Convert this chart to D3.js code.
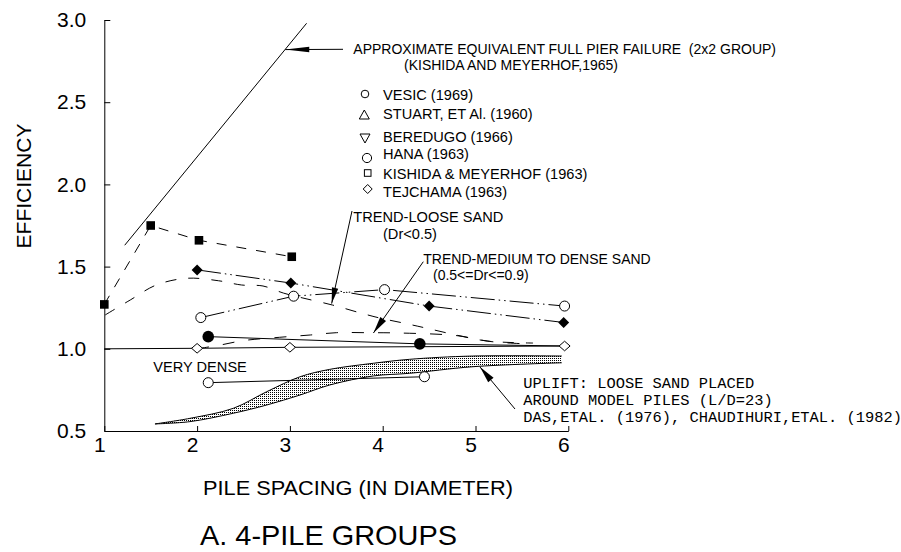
<!DOCTYPE html>
<html>
<head>
<meta charset="utf-8">
<script src="https://cdn.jsdelivr.net/npm/d3@7"></script>
<style>
  html, body { margin: 0; padding: 0; background: #fff; }
  svg { display: block; }
  text { font-family: "Liberation Sans", Arial, sans-serif; fill: #000; }
  .cad { font-family: "Liberation Mono", "DejaVu Sans Mono", monospace; }
</style>
</head>
<body>
<svg id="chart" width="901" height="552"></svg>
<script>
// ---- axis ticks ----
const xTicks = [1, 2, 3, 4, 5, 6];
const yTicks = [0.5, 1.0, 1.5, 2.0, 2.5, 3.0];

// ---- group efficiency data (pile spacing in diameters vs. efficiency) ----
const kishidaSpacing = [1.0, 1.5, 2.02, 3.02];
const kishidaEff     = [1.27, 1.75, 1.66, 1.56];

const solidDiamondSpacing = [2.0, 3.01, 4.5, 5.95];
const solidDiamondEff     = [1.48, 1.40, 1.26, 1.16];

const openCircleSpacing = [2.04, 3.04, 4.02, 5.96];
const openCircleEff     = [1.19, 1.32, 1.36, 1.26];

const solidCircleSpacing = [2.12, 4.40, 5.96];
const solidCircleEff     = [1.074, 1.03, 1.017];
const solidCircleMarked  = [true, true, false];

const tejchamaSpacing = [1.0, 2.0, 3.0, 5.96];
const tejchamaEff     = [1.0, 1.003, 1.009, 1.017];
const tejchamaMarked  = [false, true, true, true];

const veryDenseSpacing = [2.12, 4.45];
const veryDenseEff     = [0.794, 0.83];

// trend curves
const looseTrendSpacing = [1.01, 1.28, 1.56, 1.89, 2.23, 2.48, 2.71, 2.93, 3.14, 3.46, 3.76, 3.97, 4.22, 4.46, 4.79, 5.13, 5.62];
const looseTrendEff     = [1.206, 1.297, 1.388, 1.429, 1.414, 1.388, 1.382, 1.339, 1.309, 1.266, 1.218, 1.187, 1.157, 1.127, 1.084, 1.047, 1.035];

const mediumTrendSpacing = [2.0, 2.25, 2.5, 2.89, 3.22, 3.5, 3.83, 4.19, 4.8, 5.15, 5.55];
const mediumTrendEff     = [1.0, 1.023, 1.05, 1.07, 1.084, 1.098, 1.098, 1.096, 1.08, 1.045, 1.03];

// full pier failure line (2x2 group)
const pierSpacing = [1.22, 3.18];
const pierEff     = [1.63, 2.98];

// uplift band (loose sand around model piles)
const upliftSpacing = [1.546, 1.923, 2.39, 2.75, 3.11, 3.43, 3.90, 4.29, 4.97, 5.93];
const upliftUpper   = [0.543, 0.577, 0.638, 0.739, 0.830, 0.875, 0.912, 0.936, 0.956, 0.956];
const upliftLower   = [0.543, 0.557, 0.608, 0.658, 0.719, 0.780, 0.835, 0.851, 0.891, 0.915];

// legend
const legendNames = ["VESIC (1969)", "STUART, ET Al. (1960)", "BEREDUGO (1966)", "HANA (1963)", "KISHIDA & MEYERHOF (1963)", "TEJCHAMA (1963)"];
const legendSymbols = ["smallCircle", "triUp", "triDown", "circle", "square", "diamond"];

// ---- drawing ----
const svg = d3.select("#chart");
const x = d3.scaleLinear().domain([1, 6]).range([104.3, 568.3]);
const y = d3.scaleLinear().domain([0.5, 3]).range([431, 20]);

const zip = (a, b) => a.map((d, i) => [d, b[i]]);
const line = d3.line().x(d => x(d[0])).y(d => y(d[1]));
const smooth = d3.line().x(d => x(d[0])).y(d => y(d[1])).curve(d3.curveCatmullRom.alpha(0.5));

const defs = svg.append("defs");
const pat = defs.append("pattern").attr("id", "stipple")
  .attr("width", 2).attr("height", 2).attr("patternUnits", "userSpaceOnUse");
pat.append("rect").attr("width", 2).attr("height", 2).attr("fill", "#fff");
pat.append("rect").attr("width", 1).attr("height", 1).attr("fill", "#000");

// axes
const gx = svg.append("g").attr("transform", "translate(0,431)")
  .call(d3.axisBottom(x).tickValues(xTicks).tickSizeInner(-5).tickSizeOuter(0).tickPadding(6)
    .tickFormat(d3.format("d")));
gx.selectAll("text").attr("dx", -5).attr("font-size", 21).attr("font-family", "Liberation Sans, Arial, sans-serif");

const gy = svg.append("g").attr("transform", "translate(104.3,0)")
  .call(d3.axisLeft(y).tickValues(yTicks).tickSizeInner(-6).tickSizeOuter(0).tickPadding(18)
    .tickFormat(d3.format(".1f")));
gy.selectAll("text").attr("font-size", 21).attr("font-family", "Liberation Sans, Arial, sans-serif");
svg.selectAll(".domain, .tick line").attr("stroke", "#000").attr("stroke-width", 1);

svg.append("text").attr("transform", "translate(31,186) rotate(-90)")
  .attr("text-anchor", "middle").attr("font-size", 21).text("EFFICIENCY");
svg.append("text").attr("x", 203).attr("y", 495).attr("font-size", 20)
  .attr("textLength", 310).attr("lengthAdjust", "spacingAndGlyphs").text("PILE SPACING (IN DIAMETER)");
svg.append("text").attr("x", 200).attr("y", 545).attr("font-size", 28)
  .attr("textLength", 257).attr("lengthAdjust", "spacingAndGlyphs").text("A. 4-PILE GROUPS");

// uplift band
const band = upliftSpacing.map((s, i) => [s, upliftUpper[i], upliftLower[i]]);
svg.append("path").datum(band)
  .attr("d", d3.area().x(d => x(d[0])).y0(d => y(d[2])).y1(d => y(d[1])).curve(d3.curveCatmullRom.alpha(0.5)))
  .attr("fill", "url(#stipple)").attr("stroke", "none");
svg.append("path").datum(zip(upliftSpacing, upliftUpper)).attr("d", smooth)
  .attr("fill", "none").attr("stroke", "#000").attr("stroke-width", 1);
svg.append("path").datum(zip(upliftSpacing, upliftLower)).attr("d", smooth)
  .attr("fill", "none").attr("stroke", "#000").attr("stroke-width", 1);

// full pier failure line
svg.append("path").datum(zip(pierSpacing, pierEff)).attr("d", line)
  .attr("fill", "none").attr("stroke", "#000").attr("stroke-width", 1);

// trend curves
svg.append("path").datum(zip(looseTrendSpacing, looseTrendEff)).attr("d", smooth)
  .attr("fill", "none").attr("stroke", "#000").attr("stroke-width", 1).attr("stroke-dasharray", "11,12");
svg.append("path").datum(zip(mediumTrendSpacing, mediumTrendEff)).attr("d", smooth)
  .attr("fill", "none").attr("stroke", "#000").attr("stroke-width", 1).attr("stroke-dasharray", "12,14");

// series lines
const lineSpec = [
  { s: kishidaSpacing, e: kishidaEff, dash: "10,10" },
  { s: solidDiamondSpacing, e: solidDiamondEff, dash: "24,4,1.5,4,1.5,4" },
  { s: openCircleSpacing, e: openCircleEff, dash: "24,4,1.5,4,1.5,4" },
  { s: solidCircleSpacing, e: solidCircleEff, dash: null },
  { s: tejchamaSpacing, e: tejchamaEff, dash: null },
  { s: veryDenseSpacing, e: veryDenseEff, dash: null }
];
lineSpec.forEach(l => {
  const p = svg.append("path").datum(zip(l.s, l.e)).attr("d", line)
    .attr("fill", "none").attr("stroke", "#000").attr("stroke-width", 1);
  if (l.dash) p.attr("stroke-dasharray", l.dash);
});

// marker shapes
function diamondPath(w, h) { return `M0,${-h}L${w},0L0,${h}L${-w},0Z`; }
function markers(xs, es, draw, marked) {
  xs.forEach((s, i) => {
    if (marked && !marked[i]) return;
    draw(svg.append("g").attr("transform", `translate(${x(s)},${y(es[i])})`));
  });
}
markers(kishidaSpacing, kishidaEff, g => g.append("rect").attr("x", -4.3).attr("y", -4.3).attr("width", 8.6).attr("height", 8.6).attr("fill", "#000"));
markers(solidDiamondSpacing, solidDiamondEff, g => g.append("path").attr("d", diamondPath(5.5, 5.5)).attr("fill", "#000"));
markers(openCircleSpacing, openCircleEff, g => g.append("circle").attr("r", 5).attr("fill", "#fff").attr("stroke", "#000"));
markers(solidCircleSpacing, solidCircleEff, g => g.append("circle").attr("r", 5.8).attr("fill", "#000"), solidCircleMarked);
markers(tejchamaSpacing, tejchamaEff, g => g.append("path").attr("d", diamondPath(5.5, 4.8)).attr("fill", "#fff").attr("stroke", "#000"), tejchamaMarked);
markers(veryDenseSpacing, veryDenseEff, g => g.append("circle").attr("r", 5).attr("fill", "#fff").attr("stroke", "#000"));

// arrows
function arrow(x1, y1, x2, y2, len, half) {
  svg.append("line").attr("x1", x1).attr("y1", y1).attr("x2", x2).attr("y2", y2)
    .attr("stroke", "#000").attr("stroke-width", 1);
  const a = Math.atan2(y2 - y1, x2 - x1);
  const bx = x2 - len * Math.cos(a), by = y2 - len * Math.sin(a);
  const px = -Math.sin(a) * half, py = Math.cos(a) * half;
  svg.append("path").attr("d", `M${x2},${y2}L${bx + px},${by + py}L${bx - px},${by - py}Z`).attr("fill", "#000");
}
arrow(343, 49.3, x(2.95), y(2.82), 24, 2.8);
arrow(352, 211, x(3.45), y(1.275), 16, 3.2);
arrow(423.3, 261.7, x(3.90), y(1.096), 17, 3.5);
arrow(515, 409, 480, 367, 17, 3.5);

// annotation texts
const fs = 14.6;
svg.append("text").attr("x", 353.3).attr("y", 53.5).attr("font-size", 14).attr("xml:space", "preserve")
  .text("APPROXIMATE EQUIVALENT FULL PIER FAILURE  (2x2 GROUP)");
svg.append("text").attr("x", 404).attr("y", 69.5).attr("font-size", 14).text("(KISHIDA AND MEYERHOF,1965)");
svg.append("text").attr("x", 353.3).attr("y", 221.7).attr("font-size", fs).text("TREND-LOOSE SAND");
svg.append("text").attr("x", 383).attr("y", 239.3).attr("font-size", fs).text("(Dr<0.5)");
svg.append("text").attr("x", 423.3).attr("y", 263.5).attr("font-size", 14).text("TREND-MEDIUM TO DENSE SAND");
svg.append("text").attr("x", 433).attr("y", 279.5).attr("font-size", 14).text("(0.5<=Dr<=0.9)");
svg.append("text").attr("x", 153.3).attr("y", 371.7).attr("font-size", fs).text("VERY DENSE");

const upliftLines = ["UPLIFT: LOOSE SAND PLACED", "AROUND MODEL PILES (L/D=23)", "DAS,ETAL. (1976), CHAUDIHURI,ETAL. (1982)"];
upliftLines.forEach((t, i) => {
  svg.append("text").attr("class", "cad").attr("x", 523.3).attr("y", 388.3 + i * 16.7)
    .attr("font-size", 15.4).text(t);
});

// legend
const legendRowY = [94, 115, 138, 158, 173, 189];
const legendTextY = [100, 119, 141.7, 159, 179, 196.7];
const legendSymX = [365, 364.3, 365, 367, 367.7, 367.7];
const symbolDraw = {
  smallCircle: g => g.append("circle").attr("r", 3.8),
  triUp: g => g.append("path").attr("d", "M0,-5L5,4L-5,4Z"),
  triDown: g => g.append("path").attr("d", "M0,5L5,-4L-5,-4Z"),
  circle: g => g.append("circle").attr("r", 4.6),
  square: g => g.append("rect").attr("x", -3.3).attr("y", -3.3).attr("width", 6.6).attr("height", 6.6),
  diamond: g => g.append("path").attr("d", diamondPath(4.5, 4.5))
};
legendNames.forEach((name, i) => {
  const g = svg.append("g").attr("transform", `translate(${legendSymX[i]},${legendRowY[i]})`);
  symbolDraw[legendSymbols[i]](g).attr("fill", "#fff").attr("stroke", "#000").attr("stroke-width", 1);
  svg.append("text").attr("x", 383).attr("y", legendTextY[i]).attr("font-size", fs).text(name);
});
</script>
</body>
</html>
